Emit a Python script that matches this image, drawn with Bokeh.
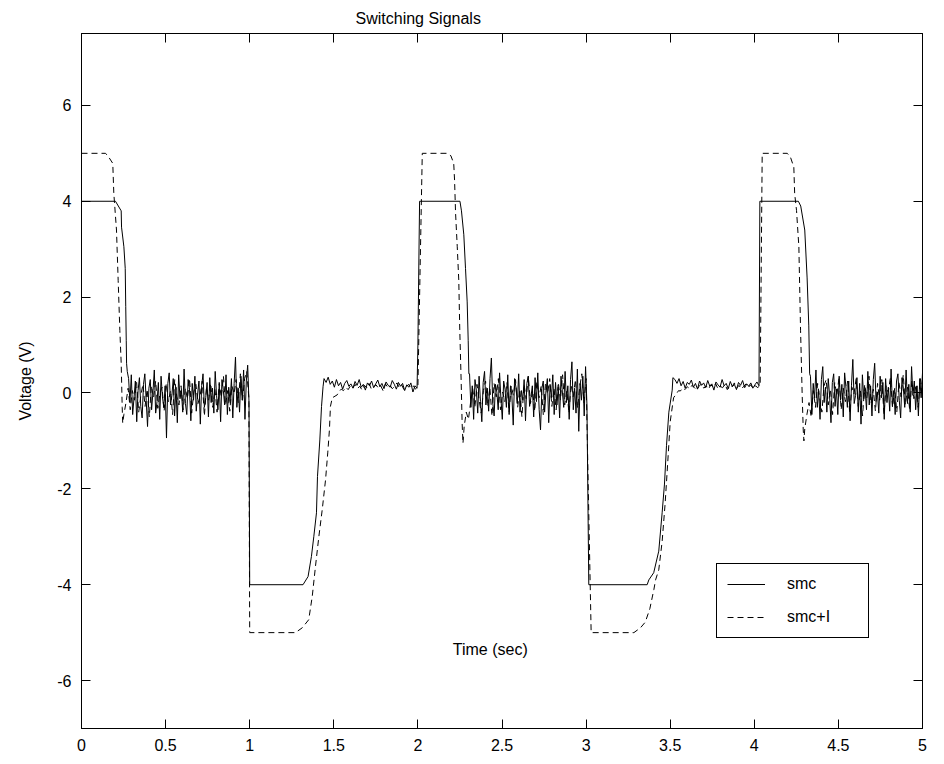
import numpy as np
from bokeh.plotting import figure
from bokeh.models import (ColumnDataSource, Range1d, LinearAxis, FixedTicker,
                          Label, Legend, LegendItem)
from bokeh.embed import file_html
from bokeh.resources import INLINE

TITLE = "Switching Signals"
X_LABEL = "Time (sec)"
Y_LABEL = "Voltage (V)"
SERIES_NAMES = ["smc", "smc+I"]

x_ticks = [0, 0.5, 1, 1.5, 2, 2.5, 3, 3.5, 4, 4.5, 5]
x_tick_labels = ["0", "0.5", "1", "1.5", "2", "2.5", "3", "3.5", "4", "4.5", "5"]
y_ticks = [-6, -4, -2, 0, 2, 4, 6]
y_tick_labels = ["-6", "-4", "-2", "0", "2", "4", "6"]

# ---------------- smc (solid) ----------------
smc_pulse0_t = [0.0, 0.202, 0.236, 0.238, 0.252, 0.260, 0.263, 0.266, 0.268]
smc_pulse0_v = [4.0, 4.0, 3.80, 3.46, 3.05, 2.60, 1.80, 1.10, 0.62]
smc_noise_a_span = [0.272, 0.996]
smc_noise_a = [0.45, 0.30, -0.20, 0.38, -0.45, -0.10, 0.25, -0.60, 0.05, 0.32, -0.28, -0.52, 0.18, 0.40,
               -0.15, -0.70, 0.10, 0.28, -0.35, 0.02, 0.48, -0.42, -0.18, 0.22, -0.55, 0.35, -0.08, -0.30,
               0.15, -0.94, 0.20, 0.42, -0.25, -0.05, 0.30, -0.48, 0.12, -0.62, 0.38, -0.12, 0.05, -0.40,
               0.50, -0.22, -0.45, 0.28, 0.08, -0.58, 0.20, -0.15, 0.35, -0.38, -0.02, 0.25, -0.65, 0.15,
               0.40, -0.30, -0.10, 0.22, -0.50, 0.32, -0.20, 0.10, -0.42, 0.45, -0.05, -0.35, 0.18, -0.60,
               0.28, 0.05, -0.25, 0.38, -0.45, 0.12, -0.18, 0.30, -0.52, 0.20, 0.75, -0.30, 0.10, -0.40,
               0.35, -0.15, 0.48, -0.55, 0.25, 0.58, -0.20]
smc_trough1_t = [1.000, 1.317, 1.347, 1.367, 1.381, 1.397, 1.403, 1.417, 1.427, 1.436]
smc_trough1_v = [-4.0, -4.0, -3.83, -3.41, -3.00, -2.50, -1.74, -0.98, -0.28, 0.13]
smc_noise_b_span = [1.442, 1.995]
smc_noise_b = [0.30, 0.22, 0.33, 0.18, 0.25, 0.12, 0.28, 0.15, 0.22, 0.08, 0.20, 0.26, 0.14, 0.19, 0.10,
               0.24, 0.16, 0.28, 0.12, 0.18, 0.06, 0.21, 0.15, 0.25, 0.11, 0.19, 0.27, 0.13, 0.20, 0.09,
               0.23, 0.16, 0.12, 0.26, 0.18, 0.08, 0.22, 0.14, 0.20, 0.05, 0.17, 0.12, 0.21, 0.02, 0.15, 0.10]
smc_pulse1_t = [2.000, 2.010, 2.250, 2.259, 2.273, 2.283, 2.293, 2.299, 2.303]
smc_pulse1_v = [1.0, 4.0, 4.0, 3.80, 3.30, 2.60, 1.90, 1.10, 0.40]
smc_noise_c_span = [2.307, 3.005]
smc_noise_c = [0.40, -0.30, 0.15, -0.55, 0.28, 0.05, -0.42, 0.35, -0.18, -0.60, 0.22, 0.45, -0.25, 0.10,
               -0.38, 0.30, 0.73, -0.20, -0.48, 0.18, 0.02, -0.35, 0.42, -0.12, -0.55, 0.25, 0.08, -0.30,
               0.38, -0.45, 0.15, -0.05, -0.67, 0.30, 0.12, -0.22, 0.40, -0.40, 0.05, -0.15, 0.28, -0.58,
               0.20, 0.35, -0.28, -0.08, 0.15, -0.50, 0.32, -0.18, 0.42, -0.35, -0.77, 0.10, 0.25, -0.40,
               0.05, 0.30, -0.62, 0.18, -0.10, 0.38, -0.45, 0.22, -0.25, 0.12, -0.52, 0.35, 0.02, -0.30,
               0.45, -0.20, 0.15, -0.55, 0.28, 0.65, -0.35, 0.10, -0.42, 0.50, -0.80, 0.20, -0.15, 0.35,
               -0.48, 0.55, -0.25]
smc_trough2_t = [3.016, 3.363, 3.373, 3.402, 3.432, 3.452, 3.466, 3.478, 3.492, 3.512]
smc_trough2_v = [-4.0, -4.0, -3.90, -3.75, -3.30, -2.50, -1.90, -1.10, -0.40, 0.06]
smc_noise_d_span = [3.516, 4.028]
smc_noise_d = [0.32, 0.28, 0.20, 0.30, 0.15, 0.24, 0.10, 0.22, 0.18, 0.27, 0.12, 0.20, 0.08, 0.25, 0.16,
               0.21, 0.11, 0.26, 0.14, 0.19, 0.06, 0.23, 0.17, 0.12, 0.28, 0.15, 0.20, 0.09, 0.24, 0.13,
               0.18, 0.07, 0.22, 0.16, 0.26, 0.11, 0.19, 0.14, 0.21, 0.10, 0.17, 0.23, 0.15]
smc_pulse2_t = [4.033, 4.262, 4.276, 4.300, 4.314, 4.324, 4.329]
smc_pulse2_v = [4.0, 4.0, 3.90, 3.40, 2.40, 1.40, 0.40]
smc_noise_e_span = [4.334, 5.0]
smc_noise_e = [0.35, -0.45, 0.20, -0.10, 0.48, -0.30, 0.05, -0.55, 0.28, 0.55, -0.20, 0.12, -0.40, 0.30,
               -0.05, -0.62, 0.22, 0.40, -0.28, 0.08, -0.45, 0.35, -0.15, 0.18, -0.50, 0.42, 0.10, -0.30,
               0.25, -0.58, 0.15, 0.70, -0.22, -0.05, 0.32, -0.40, 0.20, -0.65, 0.38, -0.12, 0.08, -0.35,
               0.45, -0.25, 0.15, -0.48, 0.28, 0.62, -0.18, 0.02, -0.42, 0.35, -0.10, 0.22, -0.55, 0.30,
               -0.20, 0.12, -0.38, 0.50, -0.28, 0.05, -0.45, 0.25, 0.40, -0.15, -0.52, 0.32, 0.10, -0.30,
               0.48, -0.22, 0.18, -0.40, 0.55, -0.05, 0.25, -0.35, 0.15, -0.48, 0.30, -0.10, 0.42]

# ---------------- smc+I (dashed) ----------------
smci_pulse0_t = [0.0, 0.143, 0.162, 0.186, 0.192, 0.208, 0.218, 0.228, 0.236, 0.242, 0.245]
smci_pulse0_v = [5.0, 5.0, 4.92, 4.79, 4.17, 3.40, 2.35, 1.30, 0.62, -0.30, -0.63]
smci_noise_a_span = [0.252, 0.995]
smci_noise_a = [-0.45, -0.20, 0.10, -0.35, 0.05, -0.15, 0.22, -0.40, -0.05, 0.18, -0.28, 0.08, -0.50, 0.15,
                -0.10, 0.25, -0.32, -0.02, 0.12, -0.38, 0.20, -0.18, 0.05, -0.45, 0.28, -0.08, -0.25, 0.15,
                -0.35, 0.10, -0.12, 0.30, -0.42, 0.02, 0.18, -0.22, -0.05, 0.25, -0.48, 0.12, -0.15, 0.20,
                -0.30, 0.08, -0.40, 0.22, -0.10, 0.35, -0.25, 0.05, -0.38, 0.15, -0.02, 0.28, -0.20, 0.40,
                -0.15, 0.30, 0.45, -0.10]
smci_trough1_t = [1.000, 1.272, 1.312, 1.351, 1.372, 1.391, 1.411, 1.431, 1.451, 1.464, 1.474, 1.480,
                  1.491, 1.520]
smci_trough1_v = [-5.0, -5.0, -4.90, -4.73, -4.24, -3.62, -3.00, -2.44, -1.81, -1.25, -0.77, -0.28,
                  -0.10, -0.04]
smci_noise_b_span = [1.53, 2.0]
smci_noise_b = [0.02, 0.08, 0.05, 0.12, 0.07, 0.15, 0.10, 0.18, 0.09, 0.14, 0.06, 0.16, 0.11, 0.20, 0.08,
                0.13, 0.17, 0.10, 0.15, 0.05, 0.19, 0.12, 0.16, 0.09, 0.14, 0.21, 0.11, 0.17, 0.07, 0.13,
                0.18, 0.10, 0.15, 0.08, 0.12]
smci_pulse1_t = [2.026, 2.174, 2.196, 2.213, 2.218, 2.224, 2.234, 2.243, 2.249, 2.257, 2.263, 2.268]
smci_pulse1_v = [5.0, 5.0, 4.95, 4.79, 4.44, 3.75, 3.05, 2.35, 1.31, 0.27, -0.63, -1.05]
smci_noise_c_span = [2.275, 3.0]
smci_noise_c = [-0.70, -0.40, -0.55, -0.20, 0.10, -0.30, 0.18, -0.15, -0.42, 0.05, 0.25, -0.28, 0.12, -0.48,
                0.20, -0.08, 0.30, -0.35, 0.02, -0.18, 0.22, -0.40, 0.15, -0.05, 0.28, -0.30, 0.08, -0.50,
                0.18, -0.12, 0.35, -0.22, 0.05, -0.38, 0.25, -0.10, 0.15, -0.45, 0.20, -0.02, 0.30, -0.28,
                0.10, -0.35, 0.22, -0.15, 0.38, -0.25, 0.05, -0.42, 0.18, -0.08, 0.28, -0.32, 0.12, 0.40,
                -0.20, 0.30]
smci_trough2_t = [3.030, 3.284, 3.323, 3.352, 3.379, 3.403, 3.413, 3.432, 3.452, 3.470, 3.488, 3.500,
                  3.520, 3.550]
smci_trough2_v = [-5.0, -5.0, -4.90, -4.78, -4.50, -4.10, -3.90, -3.69, -3.10, -2.30, -1.30, -0.60,
                  -0.10, 0.05]
smci_noise_d_span = [3.56, 4.035]
smci_noise_d = [0.04, 0.10, 0.07, 0.13, 0.09, 0.16, 0.11, 0.06, 0.14, 0.19, 0.10, 0.15, 0.08, 0.17, 0.12,
                0.20, 0.09, 0.14, 0.11, 0.18, 0.07, 0.15, 0.13, 0.21, 0.10, 0.16, 0.08, 0.14, 0.19, 0.12,
                0.17, 0.09, 0.15, 0.11, 0.18]
smci_pulse2_t = [4.047, 4.196, 4.215, 4.235, 4.240, 4.251, 4.265, 4.275, 4.285, 4.291, 4.295]
smci_pulse2_v = [5.0, 5.0, 4.92, 4.71, 4.16, 3.81, 3.05, 1.31, -0.08, -0.77, -1.00]
smci_noise_e_span = [4.30, 5.0]
smci_noise_e = [-0.75, -0.45, -0.20, -0.50, 0.05, -0.30, 0.20, -0.12, -0.40, 0.15, 0.28, -0.25, 0.08, -0.45,
                0.22, -0.05, 0.32, -0.35, 0.10, -0.18, 0.25, -0.42, 0.12, -0.02, 0.30, -0.28, 0.05, -0.48,
                0.18, -0.10, 0.35, -0.22, 0.08, -0.38, 0.20, -0.15, 0.28, -0.45, 0.15, 0.02, 0.32, -0.30,
                0.10, -0.40, 0.22, -0.08, 0.38, -0.25, 0.12, -0.35, 0.25, -0.12, 0.18, -0.30, 0.30, -0.05]


def assemble(pieces):
    ts, vs = [], []
    for kind, a, b in pieces:
        if kind == "key":
            ts.extend(a)
            vs.extend(b)
        else:  # sampled noise: a = [start, end], b = values
            ts.extend(np.linspace(a[0], a[1], len(b)).tolist())
            vs.extend(b)
    return ts, vs


smc_t, smc_v = assemble([
    ("key", smc_pulse0_t, smc_pulse0_v), ("noise", smc_noise_a_span, smc_noise_a),
    ("key", smc_trough1_t, smc_trough1_v), ("noise", smc_noise_b_span, smc_noise_b),
    ("key", smc_pulse1_t, smc_pulse1_v), ("noise", smc_noise_c_span, smc_noise_c),
    ("key", smc_trough2_t, smc_trough2_v), ("noise", smc_noise_d_span, smc_noise_d),
    ("key", smc_pulse2_t, smc_pulse2_v), ("noise", smc_noise_e_span, smc_noise_e),
])
smci_t, smci_v = assemble([
    ("key", smci_pulse0_t, smci_pulse0_v), ("noise", smci_noise_a_span, smci_noise_a),
    ("key", smci_trough1_t, smci_trough1_v), ("noise", smci_noise_b_span, smci_noise_b),
    ("key", smci_pulse1_t, smci_pulse1_v), ("noise", smci_noise_c_span, smci_noise_c),
    ("key", smci_trough2_t, smci_trough2_v), ("noise", smci_noise_d_span, smci_noise_d),
    ("key", smci_pulse2_t, smci_pulse2_v), ("noise", smci_noise_e_span, smci_noise_e),
])

FONT = "Liberation Sans"

p = figure(width=936, height=758, x_range=Range1d(0, 5), y_range=Range1d(-7, 7.5),
           output_backend="svg", toolbar_location=None,
           min_border_left=81, min_border_right=14, min_border_top=33, min_border_bottom=30)
p.background_fill_color = "white"
p.border_fill_color = "white"
p.outline_line_color = "black"
p.outline_line_width = 1
p.grid.visible = False

p.title.text = TITLE
p.title.align = "left"
p.title.vertical_align = "top"
p.title.offset = 274
p.title.standoff = 10
p.title.text_font = FONT
p.title.text_font_size = "16px"
p.title.text_font_style = "normal"
p.title.text_color = "black"

for ax, ticks, labels in ((p.xaxis[0], x_ticks, x_tick_labels), (p.yaxis[0], y_ticks, y_tick_labels)):
    ax.ticker = FixedTicker(ticks=ticks)
    ax.major_label_overrides = {t: l for t, l in zip(ticks, labels)}
    ax.major_tick_in = 9
    ax.major_tick_out = 0
    ax.minor_tick_line_color = None
    ax.axis_line_color = "black"
    ax.major_tick_line_color = "black"
    ax.major_label_text_font = FONT
    ax.major_label_text_font_size = "16px"
    ax.major_label_text_color = "black"

p.xaxis[0].major_label_standoff = 10
p.yaxis[0].major_label_standoff = 10
p.yaxis[0].axis_label = Y_LABEL
p.yaxis[0].axis_label_text_font = FONT
p.yaxis[0].axis_label_text_font_size = "16px"
p.yaxis[0].axis_label_text_font_style = "normal"
p.yaxis[0].axis_label_text_color = "black"
p.yaxis[0].axis_label_standoff = 20

for side, ticks in (("above", x_ticks), ("right", y_ticks)):
    ax = LinearAxis(ticker=FixedTicker(ticks=ticks),
                    major_label_overrides={t: "" for t in ticks},
                    major_tick_in=9, major_tick_out=0, minor_tick_line_color=None,
                    axis_line_color="black", major_tick_line_color="black",
                    major_label_standoff=0, major_label_text_font_size="1px")
    p.add_layout(ax, side)

src_smc = ColumnDataSource(dict(t=smc_t, v=smc_v))
src_smci = ColumnDataSource(dict(t=smci_t, v=smci_v))
r_smc = p.line("t", "v", source=src_smc, line_color="black", line_width=1)
r_smci = p.line("t", "v", source=src_smci, line_color="black", line_width=1, line_dash="6 4")

legend = Legend(items=[LegendItem(label=SERIES_NAMES[0], renderers=[r_smc]),
                       LegendItem(label=SERIES_NAMES[1], renderers=[r_smci])],
                location=(635, 90), orientation="vertical",
                border_line_color="black", border_line_width=1, border_line_alpha=1,
                background_fill_color="white", background_fill_alpha=1,
                label_text_font=FONT, label_text_font_size="16px", label_text_color="black",
                glyph_width=38, glyph_height=20, label_standoff=22, label_width=71,
                padding=10, spacing=13, margin=0)
p.add_layout(legend)

xlabel = Label(x=2.43, y=-5.35, text=X_LABEL, text_align="center", text_baseline="middle",
               text_font=FONT, text_font_size="16px", text_color="black")
p.add_layout(xlabel)

open("out.html", "w").write(file_html(p, INLINE))
